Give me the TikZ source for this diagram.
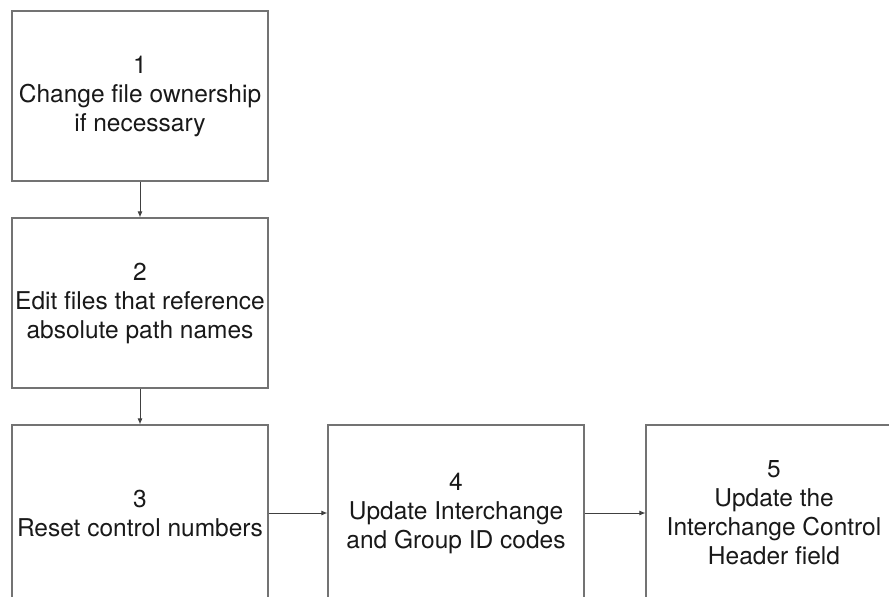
\documentclass[tikz,border=0pt]{standalone}
\usepackage{fontspec}
\setmainfont{TeX Gyre Heros}
\usetikzlibrary{arrows.meta}
\begin{document}
\begin{tikzpicture}[x=1pt,y=-1pt,
  stepbox/.style={draw=black!55,line width=1.1pt,rectangle,minimum width=256pt,
    align=center,text=black!90,inner sep=0pt,
    font=\fontsize{24.5pt}{29pt}\selectfont},
  conn/.style={draw=black!75,line width=1pt,-{Latex[length=6pt,width=5pt]}}]
\clip (0,0) rectangle (889,597);
\useasboundingbox (0,0) rectangle (889,597);
\fill[white] (0,0) rectangle (889,597);
\node[stepbox,minimum height=170pt] (s1) at (140,96) {1\\Change file ownership\\if necessary};
\node[stepbox,minimum height=170pt] (s2) at (140,303) {2\\Edit files that reference\\absolute path names};
\node[stepbox,minimum height=176pt] (s3) at (140,513) {3\\Reset control numbers};
\node[stepbox,minimum height=176pt] (s4) at (456,513) {4\\Update Interchange\\and Group ID codes};
\node[stepbox,minimum height=176pt] (s5) at (774,513) {5\\Update the\\Interchange Control\\Header field};
\draw[conn] (s1) -- (s2);
\draw[conn] (s2) -- (s3);
\draw[conn] (s3) -- (s4);
\draw[conn] (s4) -- (s5);
\end{tikzpicture}
\end{document}
